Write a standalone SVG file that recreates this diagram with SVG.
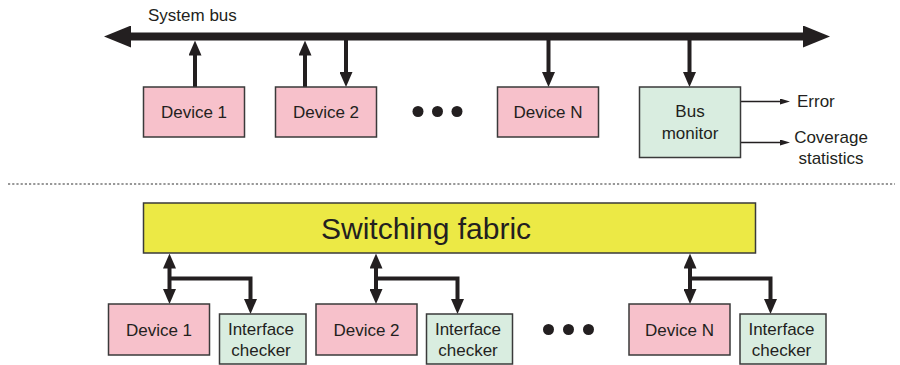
<svg xmlns="http://www.w3.org/2000/svg" width="900" height="365" viewBox="0 0 900 365">
<style>
.dev{fill:#f7c1cb;stroke:#3a3a3a;stroke-width:1.5}
.chk{fill:#d9ede0;stroke:#3a3a3a;stroke-width:1.5}
.fab{fill:#ece945;stroke:#3a3a3a;stroke-width:1.5}
text{font-family:"Liberation Sans",Arial,sans-serif;font-size:17px;fill:#231f20}
.c{text-anchor:middle}
.conn{fill:none;stroke:#231f20;stroke-width:4}
.thin{fill:none;stroke:#231f20;stroke-width:1.3}
.dot{fill:#231f20}
</style>
<defs>
<marker id="ah" viewBox="0 0 15 13" refX="5" refY="6.5" markerWidth="15" markerHeight="13" markerUnits="userSpaceOnUse" orient="auto-start-reverse">
<path d="M0,0 L15,6.5 L0,13 z" fill="#231f20"/>
</marker>
<marker id="bh" viewBox="0 0 27 22" refX="2" refY="11" markerWidth="27" markerHeight="22" markerUnits="userSpaceOnUse" orient="auto-start-reverse">
<path d="M0,0 L27,11 L0,22 z" fill="#231f20"/>
</marker>
<marker id="sh" viewBox="0 0 10 6" refX="2" refY="3" markerWidth="10" markerHeight="6" markerUnits="userSpaceOnUse" orient="auto">
<path d="M0,0 L10,3 L0,6 z" fill="#231f20"/>
</marker>
</defs>

<text x="148" y="21">System bus</text>

<g id="connectors">
<line x1="129" y1="36.5" x2="805" y2="36.5" stroke="#231f20" stroke-width="8" marker-start="url(#bh)" marker-end="url(#bh)"/>
<line class="conn" x1="195" y1="87" x2="195" y2="50.5" marker-end="url(#ah)"/>
<line class="conn" x1="305" y1="87" x2="305" y2="50.5" marker-end="url(#ah)"/>
<line class="conn" x1="346" y1="37" x2="346" y2="77" marker-end="url(#ah)"/>
<line class="conn" x1="548.5" y1="37" x2="548.5" y2="77" marker-end="url(#ah)"/>
<line class="conn" x1="689.5" y1="37" x2="689.5" y2="77" marker-end="url(#ah)"/>
<line class="thin" x1="740" y1="101.5" x2="782" y2="101.5" marker-end="url(#sh)"/>
<line class="thin" x1="740" y1="142.5" x2="782" y2="142.5" marker-end="url(#sh)"/>

<line class="conn" x1="169.5" y1="263.5" x2="169.5" y2="294" marker-start="url(#ah)" marker-end="url(#ah)"/>
<path class="conn" d="M169.5,278.5 H250.5 V304" marker-end="url(#ah)"/>
<line class="conn" x1="376" y1="263.5" x2="376" y2="294" marker-start="url(#ah)" marker-end="url(#ah)"/>
<path class="conn" d="M376,278.5 H457.5 V304" marker-end="url(#ah)"/>
<line class="conn" x1="690" y1="263.5" x2="690" y2="294" marker-start="url(#ah)" marker-end="url(#ah)"/>
<path class="conn" d="M690,278.5 H770.5 V304" marker-end="url(#ah)"/>
</g>

<g id="top-device1"><rect class="dev" x="143.5" y="87" width="101" height="50"/><text class="c" x="194" y="118">Device 1</text></g>
<g id="top-device2"><rect class="dev" x="275.5" y="87" width="101" height="50"/><text class="c" x="326" y="118">Device 2</text></g>
<g id="top-dots"><circle class="dot" cx="418" cy="111.5" r="5.5"/><circle class="dot" cx="437.5" cy="111.5" r="5.5"/><circle class="dot" cx="457" cy="111.5" r="5.5"/></g>
<g id="top-deviceN"><rect class="dev" x="497.5" y="87" width="101" height="50"/><text class="c" x="548" y="118">Device N</text></g>
<g id="bus-monitor"><rect class="chk" x="639.5" y="87" width="101" height="70.5"/><text class="c" x="690" y="117">Bus</text><text class="c" x="690" y="138.5">monitor</text></g>
<g id="outputs"><text x="797" y="107">Error</text><text class="c" x="831" y="143">Coverage</text><text class="c" x="831" y="163.5">statistics</text></g>

<line x1="8" y1="184" x2="895" y2="184" stroke="#777" stroke-width="1.3" stroke-dasharray="2.2,2"/>

<g id="fabric"><rect class="fab" x="143.5" y="203" width="612" height="50"/><text x="321" y="238.5" style="font-size:30px">Switching fabric</text></g>

<g id="bot-device1"><rect class="dev" x="108.5" y="304" width="101" height="51"/><text class="c" x="159" y="335.5">Device 1</text></g>
<g id="checker1"><rect class="chk" x="219.5" y="314" width="86.5" height="50"/><text class="c" x="261" y="335">Interface</text><text class="c" x="261" y="355.5">checker</text></g>
<g id="bot-device2"><rect class="dev" x="316" y="304" width="101" height="51"/><text class="c" x="366.5" y="335.5">Device 2</text></g>
<g id="checker2"><rect class="chk" x="426.5" y="314" width="86" height="50"/><text class="c" x="468" y="335">Interface</text><text class="c" x="468" y="355.5">checker</text></g>
<g id="bot-dots"><circle class="dot" cx="548.5" cy="329.5" r="5.5"/><circle class="dot" cx="568.5" cy="329.5" r="5.5"/><circle class="dot" cx="588.5" cy="329.5" r="5.5"/></g>
<g id="bot-deviceN"><rect class="dev" x="629" y="304" width="101" height="51"/><text class="c" x="679.5" y="335.5">Device N</text></g>
<g id="checkerN"><rect class="chk" x="740" y="314" width="86" height="50"/><text class="c" x="781.5" y="335">Interface</text><text class="c" x="781.5" y="355.5">checker</text></g>
</svg>
